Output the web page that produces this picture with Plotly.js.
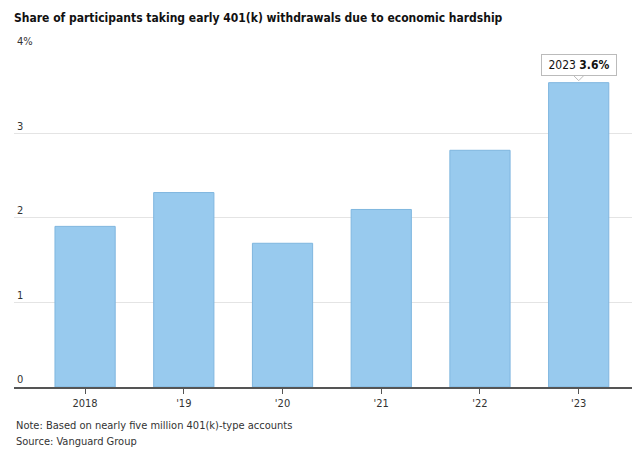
<!DOCTYPE html>
<html>
<head>
<meta charset="utf-8">
<script src="https://cdn.plot.ly/plotly-3.0.1.min.js"></script>
<style>html,body{margin:0;padding:0;background:#fff;}#chart{width:644px;height:456px;}
#chart text{font-stretch:condensed !important;}</style>
</head>
<body>
<div id="chart"></div>
<script>
const categories = ['2018', "'19", "'20", "'21", "'22", "'23"];
const shares = [1.9, 2.3, 1.7, 2.1, 2.8, 3.6];
const yTickVals = [0, 1, 2, 3, 4];
const yTickText = ['0', '1', '2', '3', '4%'];
const titleText = 'Share of participants taking early 401(k) withdrawals due to economic hardship';
const noteText = 'Note: Based on nearly five million 401(k)-type accounts';
const sourceText = 'Source: Vanguard Group';
const calloutText = '2023 <b>3.6%</b>';
const calloutIndex = 5;

const FONT = '"DejaVu Sans", sans-serif';

const trace = {
  type: 'bar',
  x: categories.map((c, i) => i),
  y: shares,
  width: 0.61,
  marker: {color: '#98caee', line: {color: '#7fb6df', width: 1}},
  hoverinfo: 'none'
};

const mT = 48, mB = 69;
const plotH = 456 - mT - mB;

const layout = {
  width: 644, height: 456,
  margin: {l: 14, r: 12, t: mT, b: mB},
  paper_bgcolor: '#fff', plot_bgcolor: '#fff',
  font: {family: FONT, color: '#333', size: 12},
  showlegend: false,
  title: {text: '<b>' + titleText + '</b>', x: 0, xref: 'paper', xanchor: 'left',
          y: 1 - 18/456, yref: 'container', yanchor: 'middle',
          font: {family: FONT, size: 12, color: '#111'}},
  xaxis: {
    range: [-0.72, 5.54],
    tickvals: categories.map((c, i) => i),
    ticktext: categories,
    showgrid: false, zeroline: false,
    showline: true, linecolor: '#555', linewidth: 1.5,
    ticks: 'outside', ticklen: 5, tickcolor: '#555', tickwidth: 1,
    tickfont: {family: FONT, size: 11, color: '#333'}
  },
  yaxis: {
    range: [0, 4.01],
    tickvals: yTickVals, ticktext: yTickText,
    ticklabelposition: 'inside top',
    ticklabeloverflow: 'allow',
    showgrid: true, gridcolor: '#e4e4e4', gridwidth: 1,
    zeroline: false, showline: false, ticks: '',
    tickfont: {family: FONT, size: 11, color: '#333'}
  },
  shapes: [
    {type: 'path', layer: 'above', xref: 'x', yref: 'y',
     xsizemode: 'pixel', ysizemode: 'pixel', xanchor: calloutIndex, yanchor: shares[calloutIndex],
     path: 'M-6,8 L0,2 L6,8', fillcolor: '#fff', line: {color: '#bbb', width: 1}}
  ],
  annotations: [
    {x: calloutIndex, y: shares[calloutIndex], xref: 'x', yref: 'y', text: calloutText, showarrow: false,
     yanchor: 'bottom', yshift: 7, bgcolor: '#fff', bordercolor: '#bbb', borderwidth: 1, borderpad: 3,
     font: {family: FONT, size: 12, color: '#111'}},
    {x: 0, xref: 'paper', xanchor: 'left', align: 'left', y: (456 - mB - 425) / plotH, yref: 'paper', yanchor: 'middle',
     text: noteText, showarrow: false, font: {family: FONT, size: 11, color: '#333'}},
    {x: 0, xref: 'paper', xanchor: 'left', align: 'left', y: (456 - mB - 441) / plotH, yref: 'paper', yanchor: 'middle',
     text: sourceText, showarrow: false, font: {family: FONT, size: 11, color: '#333'}}
  ]
};

Plotly.newPlot('chart', [trace], layout, {displayModeBar: false, staticPlot: true});
</script>
</body>
</html>
